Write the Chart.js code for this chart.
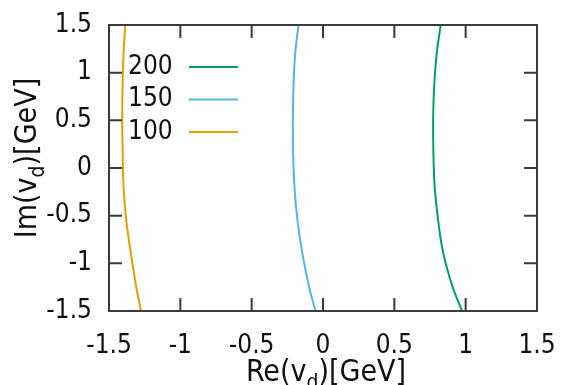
<!DOCTYPE html>
<html>
<head>
<meta charset="utf-8">
<script src="https://cdn.jsdelivr.net/npm/chart.js@4/dist/chart.umd.min.js"></script>
<style>
    html, body { margin: 0; padding: 0; background: #fff; }
    #wrap { width: 566px; height: 385px; }
</style>
</head>
<body>
<div id="wrap"><canvas id="chart"></canvas></div>
<script>
// Im(v_d) sample points along each curve, shared by all three series
const imValues = [1.5, 1.2, 0.85, 0.5, 0.15, -0.2, -0.55, -0.9, -1.25, -1.5];
// Re(v_d) for each contour
const re200 = [0.825, 0.797, 0.779, 0.772, 0.774, 0.783, 0.807, 0.844, 0.909, 0.975];
const re150 = [-0.172, -0.195, -0.207, -0.211, -0.209, -0.200, -0.179, -0.144, -0.097, -0.053];
const re100 = [-1.386, -1.398, -1.405, -1.407, -1.404, -1.398, -1.379, -1.346, -1.309, -1.276];

const seriesLabels = ['200', '150', '100'];
const seriesColors = ['#009e73', '#56b4e9', '#e69f00'];
const tickValues = [-1.5, -1, -0.5, 0, 0.5, 1, 1.5];
const tickLabels = ['-1.5', '-1', '-0.5', '0', '0.5', '1', '1.5'];

const FONT = "'DejaVu Sans Condensed', 'DejaVu Sans', sans-serif";
const TEXT = '#111';
const FRAME = '#3a3a3a';

const toPoints = re => re.map((x, i) => ({ x: x, y: imValues[i] }));

const datasets = [re200, re150, re100].map((re, i) => ({
    label: seriesLabels[i],
    data: toPoints(re),
    borderColor: seriesColors[i],
    backgroundColor: seriesColors[i],
    borderWidth: 2,
    pointRadius: 0,
    showLine: true,
    tension: 0.4,
    fill: false
}));

const tickFormat = v => {
    const idx = tickValues.findIndex(t => Math.abs(t - v) < 1e-9);
    return idx >= 0 ? tickLabels[idx] : '';
};

// frame, inward ticks, gnuplot style key, axis titles with subscript
const gnuplotLook = {
    id: 'gnuplotLook',
    afterDatasetsDraw(chart) {
        const { ctx, chartArea: a, scales } = chart;
        const tl = 13;
        ctx.save();
        ctx.strokeStyle = FRAME;
        ctx.lineWidth = 2;
        ctx.beginPath();
        tickValues.forEach(v => {
            if (v <= -1.5 || v >= 1.5) return;
            const px = scales.x.getPixelForValue(v);
            ctx.moveTo(px, a.bottom); ctx.lineTo(px, a.bottom - tl);
            ctx.moveTo(px, a.top); ctx.lineTo(px, a.top + tl);
            const py = scales.y.getPixelForValue(v);
            ctx.moveTo(a.left, py); ctx.lineTo(a.left + tl, py);
            ctx.moveTo(a.right, py); ctx.lineTo(a.right - tl, py);
        });
        ctx.stroke();
        ctx.strokeRect(a.left, a.top, a.right - a.left, a.bottom - a.top);

        // key
        ctx.font = '26px ' + FONT;
        ctx.textBaseline = 'middle';
        ctx.textAlign = 'left';
        chart.data.datasets.forEach((ds, i) => {
            const y = 67 + i * 32.5;
            ctx.fillStyle = TEXT;
            ctx.fillText(ds.label, 128, y);
            ctx.strokeStyle = ds.borderColor;
            ctx.lineWidth = 2;
            ctx.beginPath();
            ctx.moveTo(189, y);
            ctx.lineTo(238, y);
            ctx.stroke();
        });

        // axis titles
        const drawTitle = (pre, sub, post, size) => {
            const parts = [
                { t: pre, f: size, dy: 0 },
                { t: sub, f: Math.round(size * 0.7), dy: size * 0.28 },
                { t: post, f: size, dy: 0 }
            ];
            let w = 0;
            parts.forEach(p => { ctx.font = p.f + 'px ' + FONT; p.w = ctx.measureText(p.t).width; w += p.w; });
            let x = -w / 2;
            ctx.textAlign = 'left';
            ctx.textBaseline = 'alphabetic';
            ctx.fillStyle = TEXT;
            parts.forEach(p => {
                ctx.font = p.f + 'px ' + FONT;
                ctx.fillText(p.t, x, p.dy);
                x += p.w;
            });
        };
        ctx.save();
        ctx.translate(326, 381);
        drawTitle('Re(v', 'd', ')[GeV]', 30);
        ctx.restore();
        ctx.save();
        ctx.translate(36, 158);
        ctx.rotate(-Math.PI / 2);
        drawTitle('Im(v', 'd', ')[GeV]', 30);
        ctx.restore();
        ctx.restore();
    }
};

new Chart(document.getElementById('chart'), {
    type: 'scatter',
    data: { datasets: datasets },
    options: {
        responsive: true,
        maintainAspectRatio: false,
        animation: false,
        layout: { padding: { left: 45, right: 29, top: 25, bottom: 0 } },
        plugins: {
            legend: { display: false },
            tooltip: { enabled: false }
        },
        scales: {
            x: {
                type: 'linear',
                min: -1.5,
                max: 1.5,
                afterFit: s => { s.height = 74; s.paddingLeft = 0; s.paddingRight = 0; },
                afterBuildTicks: s => { s.ticks = tickValues.map(v => ({ value: v })); },
                grid: { display: false, drawTicks: false },
                border: { display: false },
                ticks: { callback: tickFormat, padding: 20, maxRotation: 0, autoSkip: false, color: TEXT, font: { family: FONT, size: 26 } }
            },
            y: {
                type: 'linear',
                min: -1.5,
                max: 1.5,
                afterFit: s => { s.width = 64; s.paddingTop = 0; s.paddingBottom = 0; },
                afterBuildTicks: s => { s.ticks = tickValues.map(v => ({ value: v })); },
                grid: { display: false, drawTicks: false },
                border: { display: false },
                ticks: { callback: tickFormat, padding: 17, autoSkip: false, color: TEXT, font: { family: FONT, size: 26 } }
            }
        }
    },
    plugins: [gnuplotLook]
});
</script>
</body>
</html>
